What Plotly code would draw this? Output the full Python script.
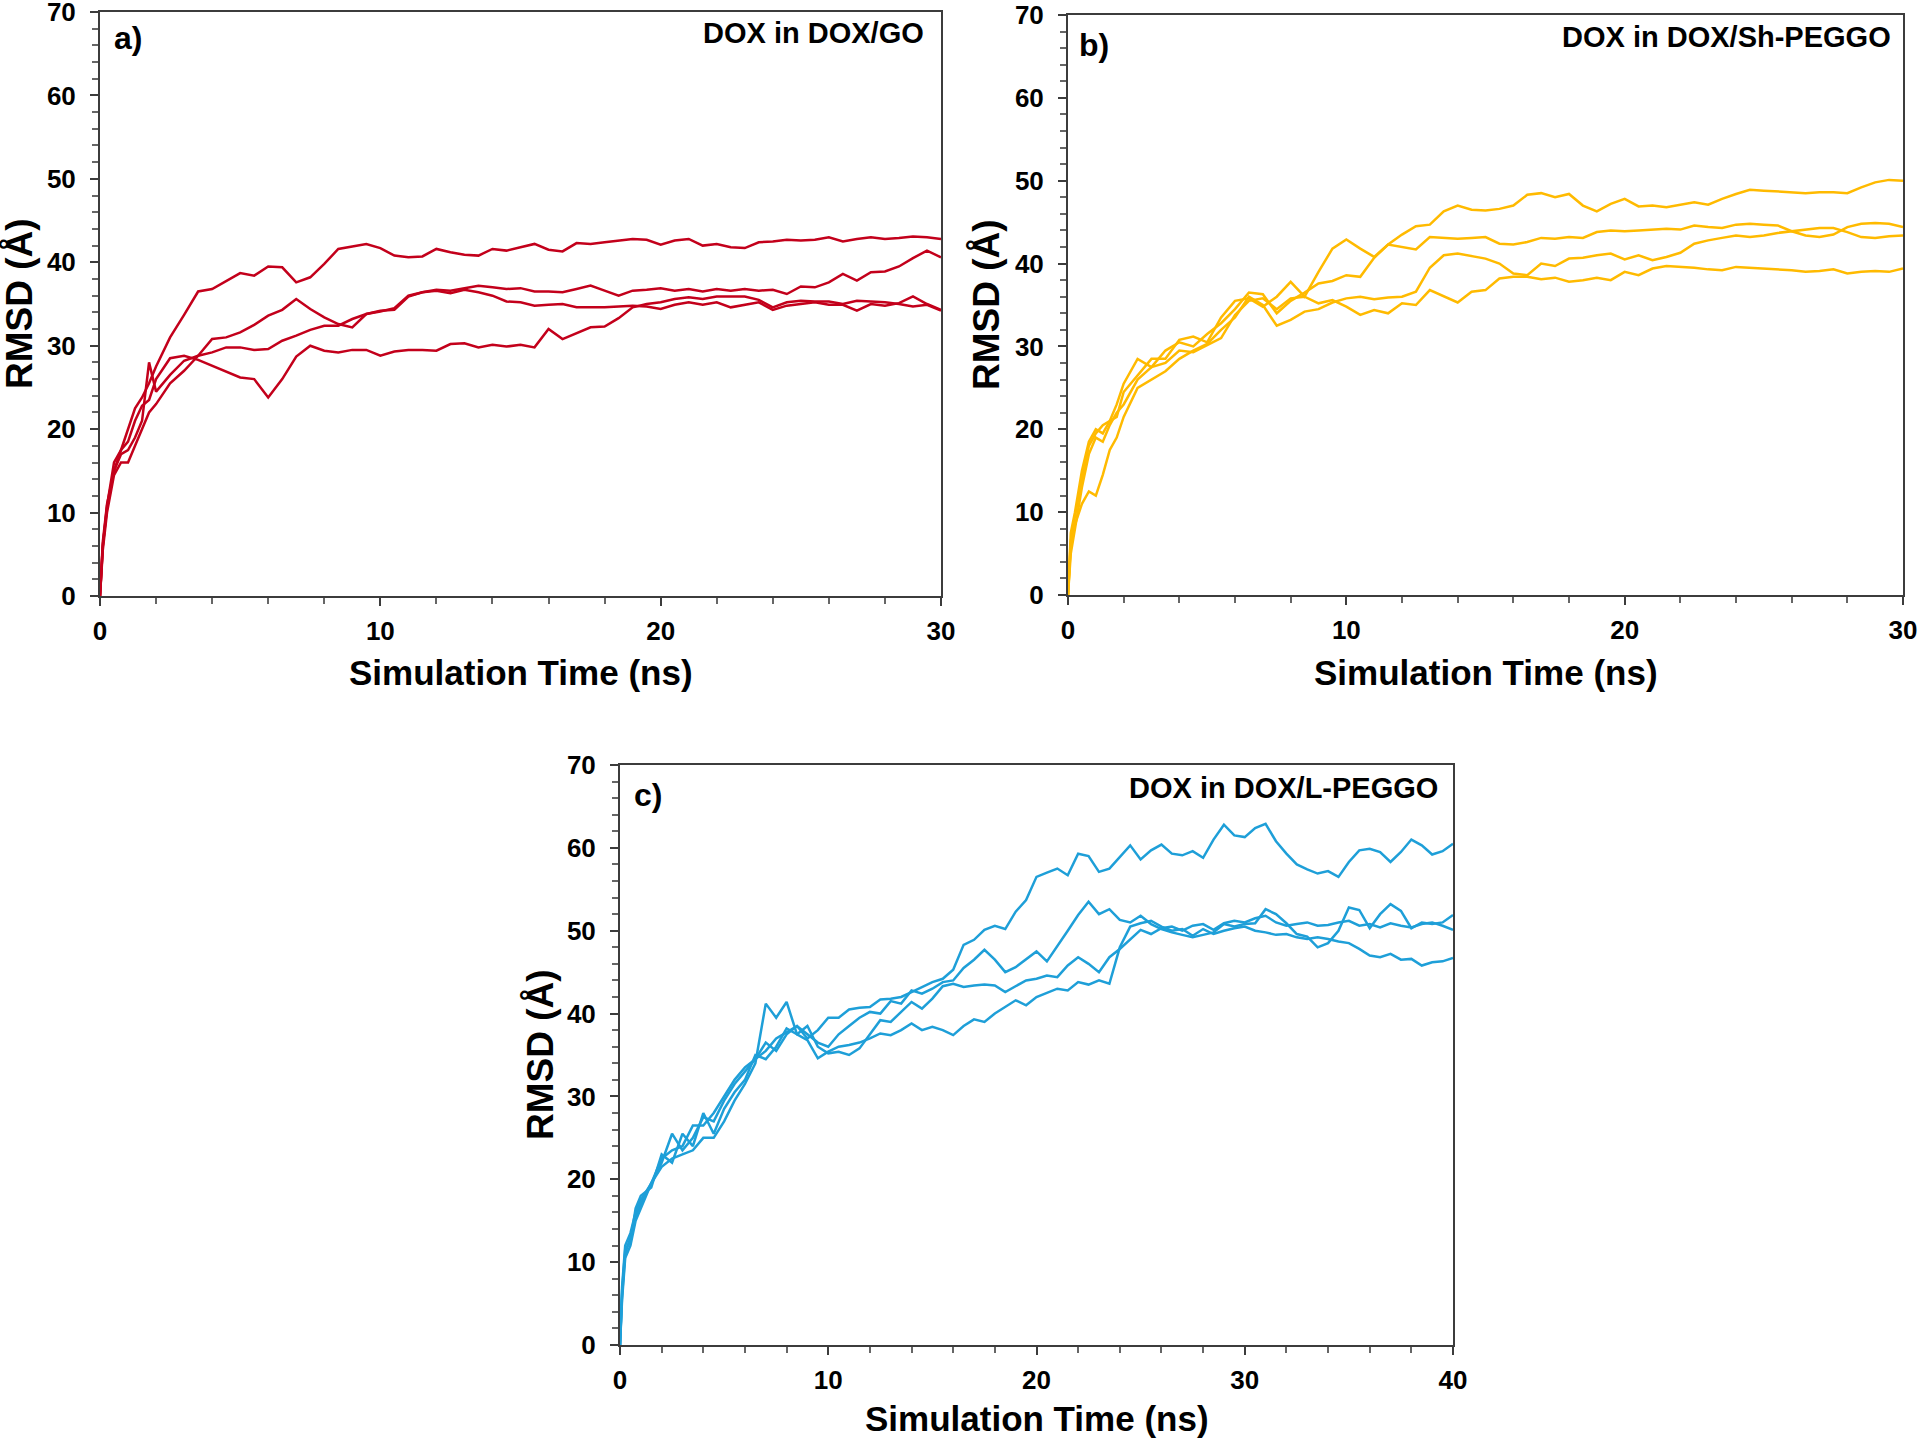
import plotly.graph_objects as go

# ---------------- data ----------------
time_ab = [0, 0.1, 0.25, 0.5, 0.75, 1, 1.25, 1.5, 1.75,
           2, 2.5, 3, 3.5, 4, 4.5, 5, 5.5, 6, 6.5, 7, 7.5, 8, 8.5, 9, 9.5, 10, 10.5, 11, 11.5,
           12, 12.5, 13, 13.5, 14, 14.5, 15, 15.5, 16, 16.5, 17, 17.5, 18, 18.5, 19, 19.5,
           20, 20.5, 21, 21.5, 22, 22.5, 23, 23.5, 24, 24.5, 25, 25.5, 26, 26.5, 27, 27.5,
           28, 28.5, 29, 29.5, 30]

go_run1 = [0, 6.5, 11, 15, 17.5, 20, 22.5, 23.8, 25.5,
           27.5, 31, 33.7, 36.5, 36.8, 37.8, 38.7, 38.4, 39.5, 39.4, 37.6, 38.2, 39.8, 41.6, 41.9, 42.2, 41.7, 40.8, 40.6, 40.7,
           41.6, 41.2, 40.9, 40.8, 41.6, 41.4, 41.8, 42.2, 41.5, 41.3, 42.3, 42.2, 42.4, 42.6, 42.8, 42.7,
           42.1, 42.6, 42.8, 42.0, 42.2, 41.8, 41.7, 42.4, 42.5, 42.7, 42.6, 42.7, 43.0, 42.5, 42.8, 43.0,
           42.8, 42.9, 43.1, 43.0, 42.8]
go_run2 = [0, 6, 10.5, 15, 17, 17.5, 19, 21, 28,
           24.5, 26.5, 28.2, 28.8, 29.2, 29.8, 29.8, 29.5, 29.6, 30.6, 31.2, 31.9, 32.4, 32.4, 33.2, 33.8, 34.2, 34.3, 35.9, 36.4,
           36.7, 36.6, 36.9, 37.2, 37.0, 36.8, 36.9, 36.5, 36.5, 36.4, 36.8, 37.2, 36.6, 36.0, 36.6, 36.7,
           36.9, 36.6, 36.8, 36.5, 36.8, 36.6, 36.8, 36.6, 36.7, 36.2, 37.1, 37.0, 37.6, 38.6, 37.8, 38.8,
           38.9, 39.5, 40.5, 41.4, 40.6]
go_run3 = [0, 5.5, 10, 14.5, 16, 16, 18, 20, 22,
           23, 25.5, 27, 28.8, 30.8, 31.0, 31.6, 32.5, 33.6, 34.3, 35.6, 34.4, 33.4, 32.6, 32.2, 33.8, 34.1, 34.5, 36.0, 36.4,
           36.6, 36.3, 36.7, 36.4, 36.0, 35.3, 35.2, 34.8, 34.9, 35.0, 34.6, 34.6, 34.6, 34.7, 34.8, 34.7,
           34.4, 34.9, 35.2, 34.9, 35.2, 34.6, 34.9, 35.2, 34.3, 34.8, 35.0, 35.2, 34.9, 34.9, 34.2, 35.0,
           34.8, 35.1, 35.9, 35.0, 34.3]
go_run4 = [0, 6, 10.8, 16, 17.5, 18.5, 21, 22.8, 23.5,
           26, 28.5, 28.8, 28.3, 27.6, 26.9, 26.2, 26.0, 23.8, 26.0, 28.7, 30.0, 29.4, 29.2, 29.5, 29.5, 28.8, 29.3, 29.5, 29.5,
           29.4, 30.2, 30.3, 29.8, 30.1, 29.9, 30.1, 29.8, 32.0, 30.8, 31.5, 32.2, 32.3, 33.3, 34.6, 35.0,
           35.2, 35.6, 35.8, 35.6, 35.9, 35.9, 35.9, 35.5, 34.6, 35.2, 35.4, 35.3, 35.3, 35.0, 35.4, 35.3,
           35.2, 35.0, 34.7, 34.9, 34.2]

sh_run1 = [0, 6.5, 9.5, 14, 18, 19.5, 20.5, 21, 21.5,
           24.5, 26.5, 28.5, 28.5, 30.8, 31.2, 30.5, 33.5, 35.5, 35.8, 34.8, 36.0, 37.8, 36.0, 39.0, 41.8, 42.9, 41.8, 40.8, 42.3,
           43.5, 44.5, 44.7, 46.3, 47.0, 46.5, 46.4, 46.6, 47.0, 48.3, 48.5, 48.0, 48.4, 47.0, 46.3, 47.2,
           47.8, 46.9, 47.0, 46.8, 47.1, 47.4, 47.1, 47.8, 48.4, 48.9, 48.8, 48.7, 48.6, 48.5, 48.6, 48.6,
           48.5, 49.2, 49.8, 50.1, 50.0]
sh_run2 = [0, 7.5, 10, 15, 18.5, 20, 19.5, 21, 23,
           25.5, 28.5, 27.5, 29.5, 30.5, 30.0, 31.5, 32.8, 34.5, 36.5, 36.3, 34.0, 35.5, 36.5, 37.6, 37.9, 38.6, 38.4, 40.7, 42.3,
           42.0, 41.7, 43.2, 43.1, 43.0, 43.1, 43.2, 42.4, 42.3, 42.6, 43.1, 43.0, 43.2, 43.1, 43.8, 44.0,
           43.9, 44.0, 44.1, 44.2, 44.1, 44.6, 44.4, 44.3, 44.7, 44.8, 44.7, 44.6, 43.9, 43.4, 43.2, 43.5,
           44.4, 44.8, 44.9, 44.8, 44.4]
sh_run3 = [0, 6, 8.5, 11, 12.5, 12, 14.5, 17.5, 19,
           21.5, 25, 26, 27, 28.5, 29.5, 30.3, 32.0, 33.5, 36.0, 35.0, 32.5, 33.2, 34.2, 34.5, 35.3, 35.8, 36.0, 35.7, 35.9,
           36.0, 36.6, 39.5, 41.0, 41.2, 40.9, 40.6, 40.0, 38.8, 38.6, 40.0, 39.7, 40.6, 40.7, 41.0, 41.2,
           40.5, 41.0, 40.4, 40.8, 41.3, 42.4, 42.8, 43.1, 43.4, 43.2, 43.4, 43.7, 43.9, 44.1, 44.3, 44.3,
           43.8, 43.2, 43.1, 43.3, 43.4]
sh_run4 = [0, 5, 8, 13, 17, 19, 18.5, 20.5, 22,
           23, 26, 27.5, 28, 29.5, 29.3, 30.2, 31, 33.8, 35.5, 35.8, 34.5, 35.8, 36.0, 35.2, 35.6, 34.8, 33.8, 34.4, 34.0,
           35.2, 35.0, 36.8, 36.0, 35.3, 36.6, 36.8, 38.2, 38.4, 38.4, 38.1, 38.3, 37.8, 38.0, 38.3, 38.0,
           39.0, 38.6, 39.4, 39.7, 39.6, 39.5, 39.3, 39.2, 39.6, 39.5, 39.4, 39.3, 39.2, 39.0, 39.1, 39.3,
           38.8, 39.0, 39.1, 39.0, 39.4]

time_c = [0, 0.1, 0.25, 0.5, 0.75, 1, 1.5,
          2, 2.5, 3, 3.5, 4, 4.5, 5, 5.5, 6, 6.5, 7, 7.5, 8, 8.5, 9, 9.5, 10, 10.5, 11, 11.5,
          12, 12.5, 13, 13.5, 14, 14.5, 15, 15.5, 16, 16.5, 17, 17.5, 18, 18.5, 19, 19.5,
          20, 20.5, 21, 21.5, 22, 22.5, 23, 23.5, 24, 24.5, 25, 25.5, 26, 26.5, 27, 27.5,
          28, 28.5, 29, 29.5, 30, 30.5, 31, 31.5, 32, 32.5, 33, 33.5, 34, 34.5, 35, 35.5,
          36, 36.5, 37, 37.5, 38, 38.5, 39, 39.5, 40]

l_run1 = [0, 6, 11, 13, 15.5, 17, 19.5,
          22.5, 23.5, 24, 26.5, 26.5, 28, 30, 32, 33.5, 34.5,
          35.5, 37, 37.8, 38.5, 37.0, 38.0, 39.5, 39.5, 40.5, 40.7,
          40.8, 41.7, 41.8, 42.0, 42.6, 43.2, 43.8, 44.2, 45.3, 48.3,
          48.9, 50.1, 50.6, 50.2, 52.3, 53.7, 56.5, 57.0, 57.5, 56.7,
          59.3, 59.0, 57.1, 57.5, 58.9, 60.3, 58.6, 59.7, 60.4, 59.3,
          59.1, 59.6, 58.8, 61.0, 62.8, 61.5, 61.3, 62.4, 62.9, 60.8,
          59.3, 58.0, 57.4, 56.9, 57.2, 56.5, 58.3, 59.7, 59.9, 59.5,
          58.3, 59.5, 61.0, 60.3, 59.2, 59.6, 60.5]
l_run2 = [0, 7, 12, 13.5, 16, 17.5, 19.5,
          22, 25.5, 23.5, 25, 27.5, 27, 29.5, 31.5, 33, 34.5,
          36.5, 35.5, 37.5, 38.5, 37.5, 36.5, 36.0, 37.5, 38.5, 39.5,
          40.2, 40.0, 41.5, 41.2, 42.8, 42.4, 43.0, 43.8, 44.0, 45.5,
          46.5, 47.7, 46.5, 45.0, 45.6, 46.5, 47.5, 46.3, 48.1, 50.0,
          51.9, 53.5, 52.0, 52.6, 51.3, 51.0, 51.8, 50.8, 50.2, 49.8,
          49.5, 49.2, 49.5, 49.8, 50.8, 50.5, 50.8, 50.9, 52.6, 52.0,
          50.9, 49.6, 49.3, 48.0, 48.5, 50.0, 52.8, 52.5, 50.3, 52.0,
          53.2, 52.4, 50.3, 51.0, 50.8, 51.0, 51.9]
l_run3 = [0, 6.5, 11.5, 12.5, 16.5, 18, 19.0,
          23, 22, 25.5, 24, 28, 25.5, 28.5, 30.5, 32, 35,
          34.5, 36, 38.2, 37.5, 38.5, 36.0, 35.2, 35.4, 35.0, 35.8,
          37.5, 39.2, 39.0, 40.2, 41.4, 40.6, 41.8, 43.3, 43.6, 43.2,
          43.4, 43.5, 43.4, 42.6, 43.3, 44.0, 44.2, 44.6, 44.4, 45.8,
          46.8, 46.0, 45.0, 46.8, 47.8, 48.9, 50.1, 49.6, 50.3, 50.5,
          50.0, 50.6, 50.8, 50.1, 50.9, 51.2, 51.0, 51.5, 51.8, 51.0,
          50.6, 50.8, 51.0, 50.6, 50.7, 51.0, 51.2, 50.6, 50.8, 50.4,
          50.9, 50.6, 50.4, 50.8, 51.0, 50.6, 50.1]
l_run4 = [0, 5.5, 10.5, 12, 15, 16.5, 19.5,
          21.5, 22.5, 23, 23.5, 25.0, 25, 27, 29.5, 31.5, 34,
          41.2, 39.5, 41.4, 37.5, 36.8, 34.6, 35.4, 36.0, 36.2, 36.5,
          37.0, 37.6, 37.4, 38.0, 38.8, 38.0, 38.4, 38.0, 37.4, 38.5,
          39.3, 39.0, 40.0, 40.8, 41.6, 41.0, 42.0, 42.5, 43.0, 42.8,
          43.8, 43.5, 44.0, 43.6, 48.0, 50.5, 50.9, 51.2, 50.5, 50.0,
          50.2, 49.4, 50.2, 49.6, 50.0, 50.3, 50.5, 50.0, 49.8, 49.5,
          49.6, 49.2, 49.0, 49.2, 49.0, 48.7, 48.5, 47.8, 47.0, 46.8,
          47.2, 46.5, 46.6, 45.8, 46.2, 46.3, 46.7]

panel_labels = ["a)", "b)", "c)"]
panel_titles = ["DOX in DOX/GO", "DOX in DOX/Sh-PEGGO", "DOX in DOX/L-PEGGO"]
x_title = "Simulation Time (ns)"
y_title = "RMSD (Å)"

RED = "#C3001B"
GOLD = "#FFBA00"
BLUE = "#1E9FD8"

# ---------------- figure ----------------
W, H = 1920, 1438
fig = go.Figure()

panels = [
    dict(xa="x", ya="y", t=time_ab, runs=[go_run1, go_run2, go_run3, go_run4], color=RED),
    dict(xa="x2", ya="y2", t=time_ab, runs=[sh_run1, sh_run2, sh_run3, sh_run4], color=GOLD),
    dict(xa="x3", ya="y3", t=time_c, runs=[l_run1, l_run2, l_run3, l_run4], color=BLUE),
]
for p in panels:
    for r in p["runs"]:
        assert len(r) == len(p["t"]), (len(r), len(p["t"]))
        fig.add_trace(go.Scatter(x=p["t"], y=r, mode="lines", xaxis=p["xa"], yaxis=p["ya"],
                                 line=dict(color=p["color"], width=2.5), showlegend=False,
                                 hoverinfo="skip"))

# plot boxes in pixels (left, right, top, bottom)
boxes = [(100, 941, 12, 596), (1068, 1903, 15, 595), (620, 1453, 765, 1345)]
xranges = [[0, 30], [0, 30], [0, 40]]

AX = "#3C3C3C"
tickfont = dict(family="Liberation Sans", size=26, color="black", weight="bold")


def px2x(px):
    return px / W


def px2y(py):
    return 1 - py / H


layout = dict(width=W, height=H, margin=dict(l=0, r=0, t=0, b=0, pad=0, autoexpand=False),
              paper_bgcolor="white", plot_bgcolor="white", showlegend=False)
for i, ((l, r, t, b), xr) in enumerate(zip(boxes, xranges)):
    sfx = "" if i == 0 else str(i + 1)
    common = dict(showline=True, linecolor=AX, linewidth=2, mirror=True,
                  ticks="outside", ticklen=8, tickwidth=2, tickcolor=AX,
                  tick0=0, dtick=10, showgrid=False, zeroline=False, automargin=False,
                  ticklabeloverflow="allow",
                  minor=dict(dtick=2, tick0=0, ticks="outside", ticklen=6, tickwidth=1.5, tickcolor="#666666"),
                  tickfont=tickfont, fixedrange=True)
    layout["xaxis" + sfx] = dict(domain=[px2x(l), px2x(r)], range=xr, anchor="y" + sfx,
                                 ticklabelstandoff=3, **common)
    layout["yaxis" + sfx] = dict(domain=[px2y(b), px2y(t)], range=[0, 70], anchor="x" + sfx,
                                 ticklabelstandoff=9, **common)
fig.update_layout(**layout)

font_xtitle = dict(family="Liberation Sans", size=35, color="black", weight="bold")
font_ytitle = dict(family="Liberation Sans", size=37, color="black", weight="bold")
font_label = dict(family="Liberation Sans", size=32, color="black", weight="bold")
font_ptitle = dict(family="Liberation Sans", size=29, color="black", weight="bold")

ytitle_x = [20, 987, 540]
xtitle_y = [672, 672, 1418]
label_pos = [(112, 38), (1077, 45), (632, 795)]
title_pos = [(926, 33), (1893, 37), (1440, 788)]

annotations = []
for i, (l, r, t, b) in enumerate(boxes):
    annotations.append(dict(text=y_title, x=px2x(ytitle_x[i]), y=px2y((t + b) / 2), xref="paper", yref="paper",
                            textangle=-90, showarrow=False, xanchor="center", yanchor="middle",
                            font=font_ytitle))
    annotations.append(dict(text=x_title, x=px2x((l + r) / 2), y=px2y(xtitle_y[i]), xref="paper", yref="paper",
                            showarrow=False, xanchor="center", yanchor="middle", font=font_xtitle))
    annotations.append(dict(text=panel_labels[i], x=px2x(label_pos[i][0]), y=px2y(label_pos[i][1]),
                            xref="paper", yref="paper", showarrow=False, xanchor="left", yanchor="middle",
                            font=font_label))
    annotations.append(dict(text=panel_titles[i], x=px2x(title_pos[i][0]), y=px2y(title_pos[i][1]),
                            xref="paper", yref="paper", showarrow=False, xanchor="right", yanchor="middle",
                            font=font_ptitle))
fig.update_layout(annotations=annotations)

# remove the default 8px page margin so the 1920x1438 figure fills the window exactly
page_fix = ("document.body.style.margin='0px';"
            "document.body.style.overflow='hidden';"
            "document.documentElement.style.overflow='hidden';")
fig.write_html("out.html", post_script=page_fix, config={"displayModeBar": False})
